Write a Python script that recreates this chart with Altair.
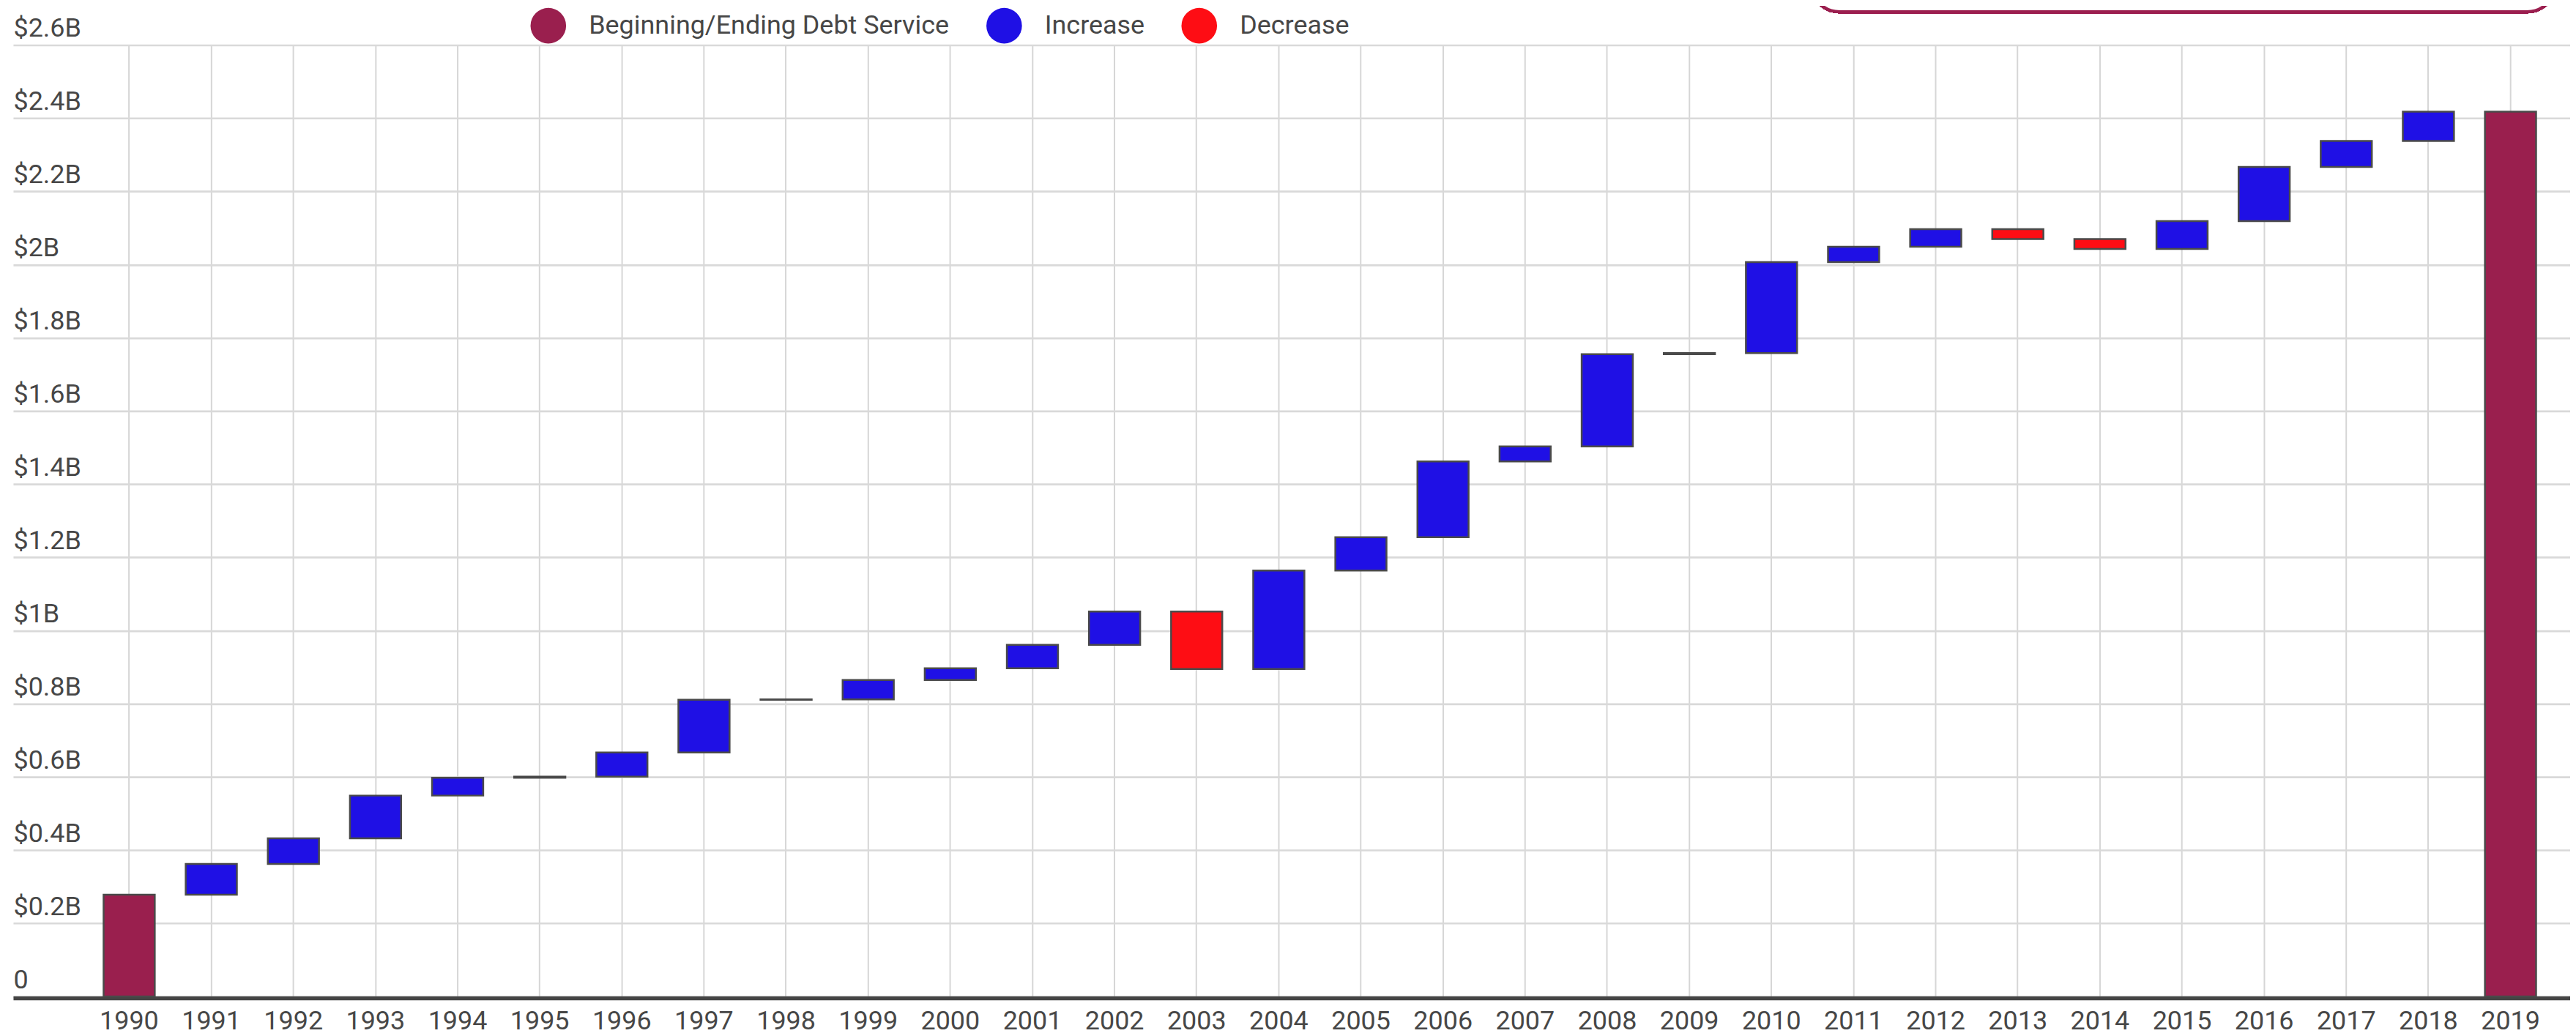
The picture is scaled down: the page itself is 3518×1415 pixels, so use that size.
import altair as alt
import pandas as pd

years = ["1990", "1991", "1992", "1993", "1994", "1995", "1996", "1997", "1998", "1999",
         "2000", "2001", "2002", "2003", "2004", "2005", "2006", "2007", "2008", "2009",
         "2010", "2011", "2012", "2013", "2014", "2015", "2016", "2017", "2018", "2019"]

# running debt-service level at the end of each year (billions of dollars)
totals = [0.278, 0.362, 0.432, 0.549, 0.598, 0.601, 0.667, 0.811, 0.812, 0.865,
          0.897, 0.961, 1.052, 0.895, 1.164, 1.255, 1.462, 1.503, 1.755, 1.758,
          2.007, 2.049, 2.097, 2.070, 2.043, 2.119, 2.267, 2.338, 2.418, 2.418]

B, I, D = "Beginning/Ending Debt Service", "Increase", "Decrease"
kinds = [B, I, I, I, I, I, I, I, I, I,
         I, I, I, D, I, I, I, I, I, I,
         I, I, I, D, D, I, I, I, I, B]

legend_order = [B, I, D]
legend_colors = ["#9A1F4E", "#1F10E5", "#FE0D14"]
y_ticks = [0, 0.2, 0.4, 0.6, 0.8, 1.0, 1.2, 1.4, 1.6, 1.8, 2.0, 2.2, 2.4, 2.6]

starts = []
for i, k in enumerate(kinds):
    starts.append(0.0 if k == B else totals[i - 1])

df = pd.DataFrame({"year": years, "start": starts, "end": totals, "kind": kinds})

FONT = "Roboto"
TXT = "#474747"
FS = 36

bars = alt.Chart(df).mark_bar(stroke="#4a4a4a", strokeWidth=2.5).encode(
    x=alt.X("year:O", sort=years,
            scale=alt.Scale(paddingInner=0.377, paddingOuter=0.758, align=0.7265),
            axis=alt.Axis(title=None, labelAngle=0, labelFont=FONT, labelFontSize=FS,
                          labelColor=TXT, ticks=False, tickSize=0, labelPadding=15,
                          domain=True, domainColor="#444444", domainWidth=5.6, offset=2,
                          grid=True, gridColor="#d6d6d6", gridWidth=2)),
    y=alt.Y("start:Q",
            scale=alt.Scale(domain=[0, 2.6], nice=False, zero=True),
            axis=alt.Axis(title=None, values=y_ticks, domain=False, ticks=False, tickSize=0,
                          labelAlign="left", labelBaseline="alphabetic", labelOffset=-12,
                          labelPadding=0, labelFlush=False, labelOverlap=False,
                          labelFont=FONT, labelFontSize=FS, labelColor=TXT,
                          labelExpr="datum.value == 0 ? '0' : '$' + format(datum.value, '.1~f') + 'B'",
                          grid=True, gridColor="#d9d9d9", gridWidth=2.7)),
    y2="end:Q",
    color=alt.Color("kind:N",
                    scale=alt.Scale(domain=legend_order, range=legend_colors),
                    legend=alt.Legend(title=None, orient="none", legendX=708, legendY=-51,
                                      direction="horizontal", symbolType="circle",
                                      symbolSize=2370, symbolStrokeWidth=0,
                                      labelFont=FONT, labelFontSize=FS, labelColor=TXT,
                                      labelOffset=31, columnPadding=50, padding=0,
                                      labelLimit=1000)),
)

box = alt.Chart(df).mark_rect(cornerRadius=39, fill="white", stroke="#9B1F4F",
                              strokeWidth=4.3).encode(
    x=alt.value(2461), x2=alt.value(3480), y=alt.value(-200), y2=alt.value(-45.5)
)

chart = alt.layer(box, bars).properties(
    width=3500, height=1302.5,
    autosize=alt.AutoSizeParams(type="none"),
    padding={"left": 10, "top": 52, "right": 0, "bottom": 60},
    background="white",
).configure_view(stroke=None)

chart.save("out.html", embed_options={"renderer": "svg", "actions": False})
